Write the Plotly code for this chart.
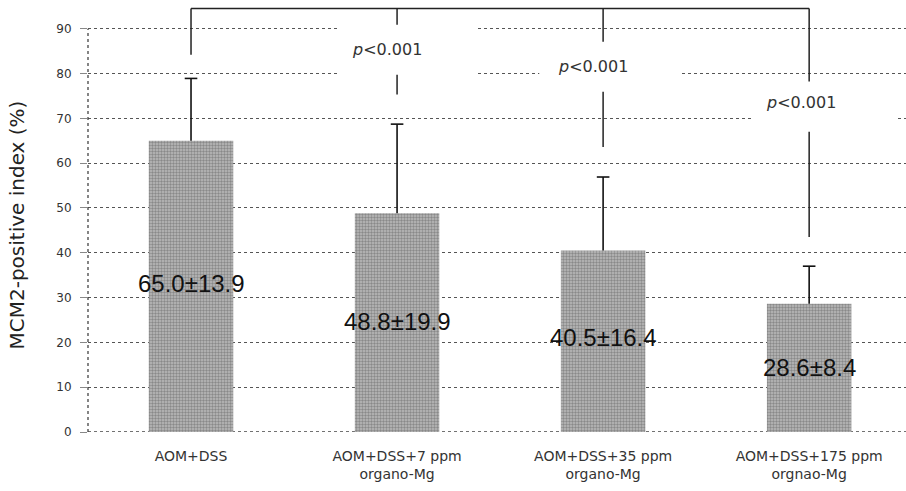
import plotly.graph_objects as go

# ---- data ----
categories = ["AOM+DSS", "AOM+DSS+7 ppm<br>organo-Mg",
              "AOM+DSS+35 ppm<br>organo-Mg", "AOM+DSS+175 ppm<br>orgnao-Mg"]
means = [65.0, 48.8, 40.5, 28.6]
sds = [13.9, 19.9, 16.4, 8.4]
y_ticks = [0, 10, 20, 30, 40, 50, 60, 70, 80, 90]
p_labels = ["p<0.001", "p<0.001", "p<0.001"]

# ---- layout helpers (positions in data units) ----
label_y = [33.2, 24.6, 21.0, 14.5]
bracket_top = 94.5
bracket_ends = [84.2, 75.3, 63.6, 43.5]
p_pos = [(0.95, 85.3), (1.95, 81.5), (2.96, 73.5)]
p_boxes = [(0.71, 1.38, 79.7, 90.9), (1.69, 2.37, 75.9, 87.1), (2.72, 3.42, 67.0, 78.2)]

xs = list(range(len(categories)))
tops = [m + s for m, s in zip(means, sds)]

fig = go.Figure()
fig.add_trace(go.Bar(
    x=xs, y=means,
    width=0.41,
    marker=dict(color="#b0b0b0", line=dict(width=0),
                pattern=dict(shape=".", fgcolor="#555", bgcolor="#bcbcbc",
                             size=3, solidity=0.5)),
    error_y=dict(type="data", symmetric=False, array=sds,
                 arrayminus=[0] * len(sds), color="#111", thickness=1.6, width=0),
    showlegend=False,
))
# error bar caps (top only)
fig.add_trace(go.Scatter(
    x=xs, y=tops, mode="markers",
    marker=dict(symbol="line-ew", size=9, line=dict(color="#111", width=1.6)),
    showlegend=False, hoverinfo="skip",
))

shapes = []
shapes.append(dict(type="line", xref="paper", yref="y", x0=0, x1=0, y0=0, y1=90,
                   line=dict(color="#444", width=1.3, dash="dot"), layer="above"))
shapes.append(dict(type="line", xref="paper", yref="y", x0=0, x1=1, y0=0, y1=0,
                   line=dict(color="#444", width=1.3, dash="dot"), layer="below"))
shapes.append(dict(type="line", xref="x", yref="y", x0=xs[0], x1=xs[-1],
                   y0=bracket_top, y1=bracket_top, line=dict(color="#222", width=1.5)))
for i, e in enumerate(bracket_ends):
    shapes.append(dict(type="line", xref="x", yref="y", x0=xs[i], x1=xs[i],
                       y0=bracket_top, y1=e, line=dict(color="#222", width=1.5)))
for (x0, x1, y0, y1) in p_boxes:
    shapes.append(dict(type="rect", xref="x", yref="y", x0=x0, x1=x1, y0=y0, y1=y1,
                       fillcolor="white", line=dict(width=0), layer="above"))

annotations = []
for i, (m, s) in enumerate(zip(means, sds)):
    annotations.append(dict(x=xs[i], y=label_y[i], xref="x", yref="y",
                            text=f"{m:.1f}±{s:.1f}", showarrow=False,
                            font=dict(family="Liberation Sans", size=24, color="#111")))
for (px, py), t in zip(p_pos, p_labels):
    annotations.append(dict(x=px, y=py, xref="x", yref="y",
                            text="<i>p</i>" + t[1:], showarrow=False,
                            font=dict(family="DejaVu Sans", size=16, color="#333")))
annotations.append(dict(x=-0.0868, y=46.3, xref="paper", yref="y",
                        text="MCM2-positive index (%)", textangle=-90, showarrow=False,
                        xanchor="center", yanchor="middle",
                        font=dict(family="DejaVu Sans", size=20, color="#222")))

fig.update_layout(
    width=906, height=491,
    margin=dict(l=88, r=0, t=0, b=59),
    paper_bgcolor="white", plot_bgcolor="white",
    shapes=shapes, annotations=annotations,
    xaxis=dict(range=[-0.5, 3.47], tickmode="array", tickvals=xs, ticktext=categories,
               showgrid=False, zeroline=False, showline=False, ticks="",
               ticklabelstandoff=14,
               tickfont=dict(family="DejaVu Sans", size=14, color="#333")),
    yaxis=dict(range=[0, 96.4], tickmode="array", tickvals=y_ticks,
               ticktext=[str(v) for v in y_ticks],
               showgrid=True, gridcolor="#555", griddash="dot", gridwidth=1.2,
               zeroline=False, showline=False, ticks="outside", ticklen=7,
               tickcolor="#888", ticklabelstandoff=6,
               tickfont=dict(family="DejaVu Sans", size=12, color="#333")),
)

fig.write_html("out.html", config={"displayModeBar": False},
               post_script="document.body.style.margin='0';")
